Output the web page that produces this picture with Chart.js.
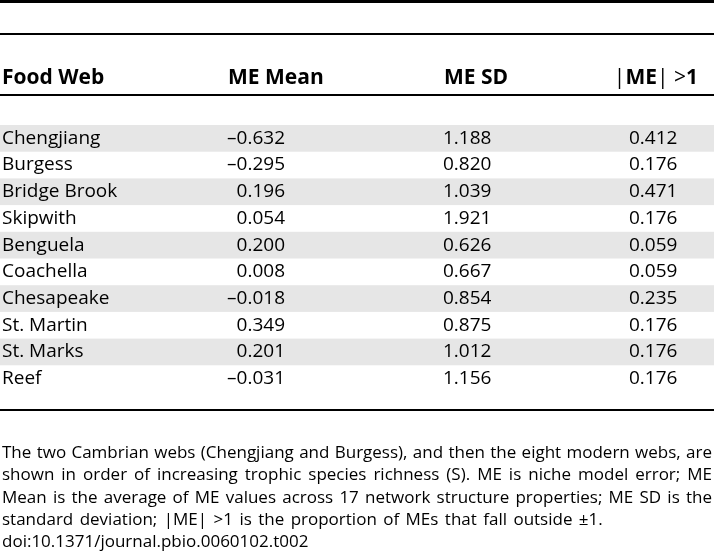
<!DOCTYPE html>
<html>
<head>
<meta charset="utf-8">
<script src="https://cdn.jsdelivr.net/npm/chart.js@4/dist/chart.umd.min.js"></script>
<style>
  html, body { margin:0; padding:0; background:#fff; }
  #wrap { position:relative; width:714px; height:558px; overflow:hidden; font-family:"Open Sans", sans-serif; color:#000; }
  #chart { position:absolute; left:0; top:0; }
  .rule { position:absolute; left:0; width:714px; background:#000; }
  .hd { position:absolute; top:61px; font-weight:bold; font-size:21px; line-height:30px; white-space:nowrap; }
  .thin { font-weight:normal; }
  .fn { position:absolute; left:2px; width:710px; font-size:17px; line-height:22px; white-space:nowrap; word-spacing:2px; }
  .just { text-align:justify; text-align-last:justify; word-spacing:0; }
</style>
</head>
<body>
<div id="wrap">
  <canvas id="chart" width="714" height="558"></canvas>
  <div class="rule" style="top:0;height:3px"></div>
  <div class="rule" style="top:33px;height:2px"></div>
  <div id="hdr"></div>
  <div class="rule" style="top:94px;height:2px"></div>
  <div class="rule" style="top:409px;height:2px"></div>
  <div class="fn just" style="top:441px">The two Cambrian webs (Chengjiang and Burgess), and then the eight modern webs, are</div>
  <div class="fn just" style="top:463px">shown in order of increasing trophic species richness (S). ME is niche model error; ME</div>
  <div class="fn just" style="top:486px">Mean is the average of ME values across 17 network structure properties; ME SD is the</div>
  <div class="fn" style="top:508px">standard deviation; |ME| &gt;1 is the proportion of MEs that fall outside ±1.</div>
  <div class="fn" style="top:530px">doi:10.1371/journal.pbio.0060102.t002</div>
</div>
<script>
const foodWebs = ['Chengjiang','Burgess','Bridge Brook','Skipwith','Benguela','Coachella','Chesapeake','St. Martin','St. Marks','Reef'];
const meMean = [-0.632,-0.295,0.196,0.054,0.200,0.008,-0.018,0.349,0.201,-0.031];
const meSD   = [1.188,0.820,1.039,1.921,0.626,0.667,0.854,0.875,1.012,1.156];
const meOut  = [0.412,0.176,0.471,0.176,0.059,0.059,0.235,0.176,0.176,0.176];
const columnHeaders = ['Food Web','ME Mean','ME SD','|ME| >1'];

// header
const hdrX = [2, 228, 444, null];
const hdr = document.getElementById('hdr');
columnHeaders.forEach((h, i) => {
  const d = document.createElement('div');
  d.className = 'hd';
  if (hdrX[i] === null) {
    d.style.right = '16px';
  } else {
    d.style.left = hdrX[i] + 'px';
  }
  if (h.startsWith('|')) {
    d.innerHTML = '<span class="thin">|</span>ME<span class="thin">|</span> <span class="thin">&gt;</span>1';
  } else {
    d.textContent = h;
  }
  hdr.appendChild(d);
});

const fmt = v => (v < 0 ? '\u2013' : '') + Math.abs(v).toFixed(3);
const FONT = '19px "Open Sans", sans-serif';

const stripes = {
  id: 'stripes',
  beforeDraw(chart) {
    const y = chart.scales.y, ctx = chart.ctx;
    const band = (chart.chartArea.bottom - chart.chartArea.top) / foodWebs.length;
    ctx.save();
    ctx.fillStyle = '#e6e6e6';
    foodWebs.forEach((_, i) => {
      if (i % 2 === 0) {
        const c = y.getPixelForValue(i);
        ctx.fillRect(0, c - band / 2, chart.width, band);
      }
    });
    ctx.restore();
  }
};

const cells = {
  id: 'cells',
  afterDraw(chart) {
    const y = chart.scales.y, ctx = chart.ctx;
    ctx.save();
    ctx.font = FONT;
    ctx.fillStyle = '#000';
    ctx.textBaseline = 'middle';
    foodWebs.forEach((_, i) => {
      const c = y.getPixelForValue(i);
      ctx.textAlign = 'right';
      ctx.fillText(fmt(meMean[i]), 285, c);
      ctx.textAlign = 'left';
      ctx.fillText(fmt(meSD[i]), 443, c);
      ctx.fillText(fmt(meOut[i]), 629, c);
    });
    ctx.restore();
  }
};

new Chart(document.getElementById('chart'), {
  type: 'bar',
  data: {
    labels: foodWebs,
    datasets: [{ label: 'ME Mean', data: meMean, backgroundColor: 'rgba(0,0,0,0)', borderWidth: 0 }]
  },
  options: {
    indexAxis: 'y',
    responsive: false,
    animation: false,
    devicePixelRatio: 1,
    layout: { padding: { top: 125, bottom: 166, left: 2, right: 0 } },
    plugins: { legend: { display: false }, tooltip: { enabled: false }, title: { display: false } },
    scales: {
      x: { display: false, min: -1, max: 1 },
      y: {
        grid: { display: false },
        border: { display: false },
        ticks: {
          crossAlign: 'far',
          padding: 0,
          color: '#000',
          font: { family: '"Open Sans", sans-serif', size: 19 }
        }
      }
    }
  },
  plugins: [stripes, cells]
});
</script>
</body>
</html>
